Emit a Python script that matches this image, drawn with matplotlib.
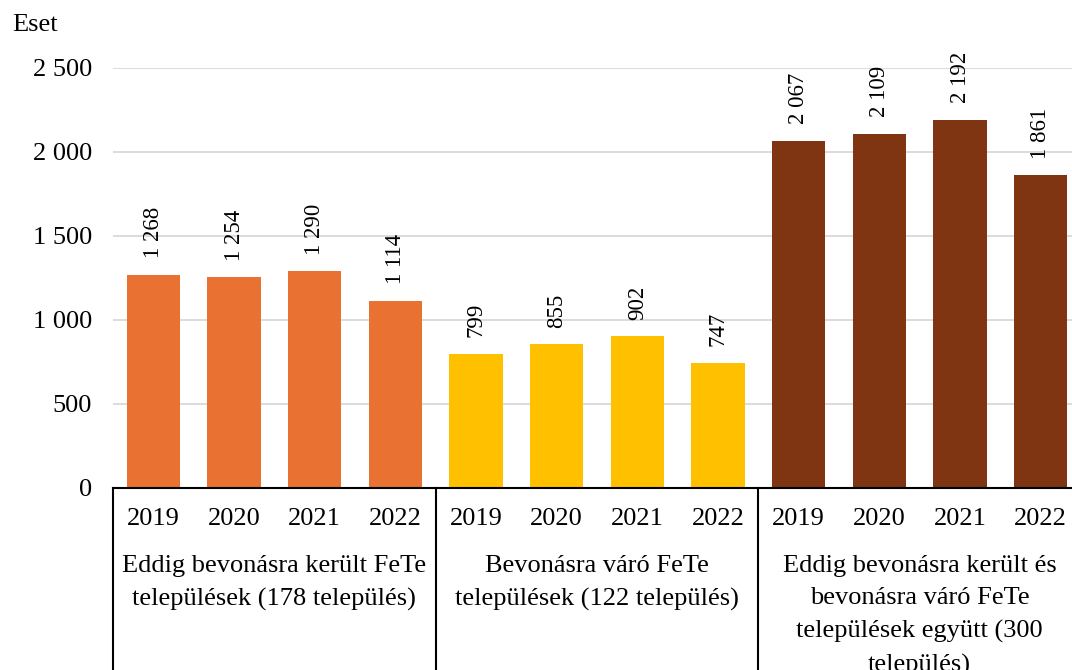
import matplotlib.pyplot as plt

plt.rcParams['font.family'] = ['Liberation Serif', 'DejaVu Serif']

years = ['2019', '2020', '2021', '2022']
groups = ['Eddig bevonásra került FeTe\ntelepülések (178 település)',
          'Bevonásra váró FeTe\ntelepülések (122 település)',
          'Eddig bevonásra került és\nbevonásra váró FeTe\ntelepülések együtt (300\ntelepülés)']
values_1 = [1268, 1254, 1290, 1114]
values_2 = [799, 855, 902, 747]
values_3 = [2067, 2109, 2192, 1861]
colors = ['#E97132', '#FFC000', '#7F3511']


def fmt(v):
    return f'{v:,}'.replace(',', ' ')


fig = plt.figure(figsize=(10.72, 6.7), dpi=100)
W, H = 1072, 670
ax = fig.add_axes([113 / W, (H - 488) / H, (1081 - 113) / W, (488 - 68) / H])

series = [values_1, values_2, values_3]
for g, vals in enumerate(series):
    xs = [g * 4 + i for i in range(len(vals))]
    ax.bar(xs, vals, width=0.66, color=colors[g], zorder=3)
    for x, v in zip(xs, vals):
        ax.annotate(fmt(v), (x, v), xytext=(0, 12), textcoords='offset points',
                    rotation=90, ha='center', va='bottom', fontsize=16.5,
                    annotation_clip=False)

ax.set_xlim(-0.5, 11.5)
ax.set_ylim(0, 2500)
ax.set_yticks(range(0, 2501, 500))
ax.set_yticklabels([fmt(v) for v in range(0, 2501, 500)], fontsize=19)
ax.tick_params(axis='y', length=0, pad=15)
ax.grid(axis='y', color='#d9d9d9', lw=1.3, zorder=0)
ax.set_xticks([])
for s in ['top', 'right', 'left']:
    ax.spines[s].set_visible(False)
ax.spines['bottom'].set_color('black')
ax.spines['bottom'].set_linewidth(1.5)
ax.spines['bottom'].set_zorder(4)

# year labels and group labels below the axis
px = 1 / 420
for g in range(3):
    for i, y in enumerate(years):
        ax.text(g * 4 + i, -31 * px, y, ha='center', va='center', fontsize=19,
                transform=ax.get_xaxis_transform())
    ax.text(g * 4 + 1.5, -67 * px, groups[g], ha='center', va='top', fontsize=19,
            linespacing=1.6, transform=ax.get_xaxis_transform())

for xv in [-0.5, 3.5, 7.5, 11.5]:
    ax.axvline(xv, ymin=-200 * px, ymax=0, color='black', lw=1.5, clip_on=False)

fig.text(12 / W, 1 - 25 / H, 'Eset', ha='left', va='center', fontsize=19)

fig.savefig('out.png', dpi=100)
